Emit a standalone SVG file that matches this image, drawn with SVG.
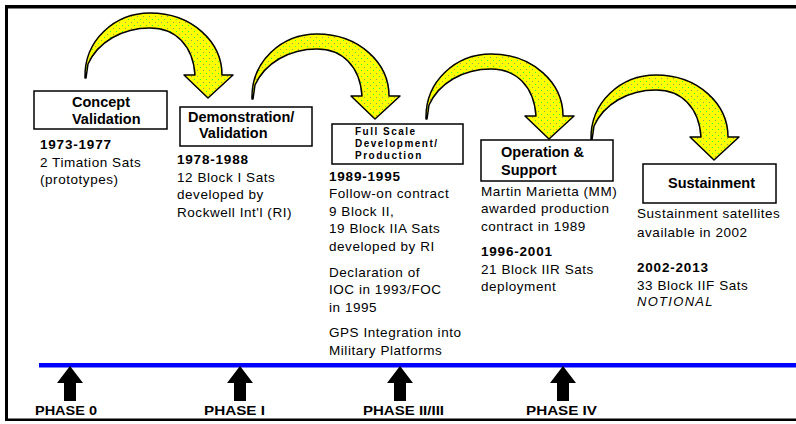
<svg xmlns="http://www.w3.org/2000/svg" width="796" height="424" viewBox="0 0 796 424">
<style>
text{font-family:"Liberation Sans",Arial,sans-serif;fill:#000}
.t{font-size:14.5px;font-weight:bold}
.b{font-size:13.5px;letter-spacing:0.55px}
.y{font-size:13.5px;font-weight:bold;letter-spacing:0.8px}
.s{font-size:10px;font-weight:bold;letter-spacing:1.5px}
.box{fill:#fff;stroke:#000;stroke-width:1.5}
.ph{font-size:12.5px;font-weight:bold}
.arr{fill:url(#dots);stroke:#000;stroke-width:1.5;stroke-linejoin:round}
.up{fill:#000}
</style>
<defs>
<pattern id="dots" width="6" height="6" patternUnits="userSpaceOnUse">
<rect width="6" height="6" fill="#ffff00"/>
<rect x="1" y="1" width="1" height="1" fill="#33ff33"/>
<rect x="4" y="4" width="1" height="1" fill="#9a9a5a"/>
</pattern>
<path id="curve" d="M0,0 C-1,-38 30,-65 65,-65 C107,-65 137,-36 137,-3 L148,-3 L123,20 L99,-3 L110,-3 C108,-33 90,-50 65,-50 C37,-50 13,-36 3,-14 L1,0 Z"/>
<polygon id="up" points="0,0 13,17 6,17 6,35 -6,35 -6,17 -13,17"/>
</defs>

<g id="frame">
<rect x="5" y="5" width="791" height="3.5" fill="#000"/>
<rect x="5" y="5" width="3" height="416" fill="#000"/>
<rect x="5" y="418.5" width="791" height="2.5" fill="#000"/>
</g>

<g id="connectors">
<use href="#curve" class="arr" transform="translate(85,78)"/>
<use href="#curve" class="arr" transform="translate(252,99)"/>
<use href="#curve" class="arr" transform="translate(426,119)"/>
<use href="#curve" class="arr" transform="translate(591,140)"/>
</g>

<g id="concept">
<rect class="box" x="34" y="91" width="133" height="38"/>
<text class="t" x="72" y="106.5">Concept</text>
<text class="t" x="72" y="124">Validation</text>
<text class="y" x="40" y="149">1973-1977</text>
<text class="b" x="40" y="166.5">2 Timation Sats</text>
<text class="b" x="40" y="183.5">(prototypes)</text>
</g>

<g id="demonstration">
<rect class="box" x="180" y="107" width="132" height="39"/>
<text class="t" x="188" y="122">Demonstration/</text>
<text class="t" x="199" y="138">Validation</text>
<text class="y" x="177" y="164">1978-1988</text>
<text class="b" x="177" y="181.7">12 Block I Sats</text>
<text class="b" x="177" y="199">developed by</text>
<text class="b" x="177" y="216.7">Rockwell Int'l (RI)</text>
</g>

<g id="fsd">
<rect class="box" x="332" y="124" width="131" height="40"/>
<text class="s" x="355" y="135">Full Scale</text>
<text class="s" x="355" y="146.5">Development/</text>
<text class="s" x="355" y="158.5">Production</text>
<text class="y" x="329" y="181">1989-1995</text>
<text class="b" x="329" y="198">Follow-on contract</text>
<text class="b" x="329" y="215.7">9 Block II,</text>
<text class="b" x="329" y="233">19 Block IIA Sats</text>
<text class="b" x="329" y="251">developed by RI</text>
<text class="b" x="329" y="276.5">Declaration of</text>
<text class="b" x="329" y="294">IOC in 1993/FOC</text>
<text class="b" x="329" y="311.5">in 1995</text>
<text class="b" x="329" y="337">GPS  Integration into</text>
<text class="b" x="329" y="354.5">Military Platforms</text>
</g>

<g id="operation">
<rect class="box" x="481" y="140" width="132" height="41"/>
<text class="t" x="501" y="157">Operation &amp;</text>
<text class="t" x="501" y="174.5">Support</text>
<text class="b" x="481" y="196">Martin Marietta (MM)</text>
<text class="b" x="481" y="213">awarded production</text>
<text class="b" x="481" y="230.7">contract in 1989</text>
<text class="y" x="481" y="255.7">1996-2001</text>
<text class="b" x="481" y="273.7">21 Block IIR Sats</text>
<text class="b" x="481" y="290.7">deployment</text>
</g>

<g id="sustainment">
<rect class="box" x="643" y="164" width="133" height="39"/>
<text class="t" x="668" y="188">Sustainment</text>
<text class="b" x="637" y="218">Sustainment satellites</text>
<text class="b" x="637" y="236.5">available in 2002</text>
<text class="y" x="637" y="272">2002-2013</text>
<text class="b" x="637" y="290">33 Block IIF Sats</text>
<text x="637" y="306" font-size="13" font-style="italic" letter-spacing="1.3">NOTIONAL</text>
</g>

<g id="timeline">
<rect x="39" y="363" width="757" height="4.5" fill="#0000ff"/>
<use href="#up" class="up" transform="translate(70,366)"/>
<use href="#up" class="up" transform="translate(240,366)"/>
<use href="#up" class="up" transform="translate(400,366)"/>
<use href="#up" class="up" transform="translate(563,366)"/>
<text class="ph" x="35" y="415" textLength="62" lengthAdjust="spacingAndGlyphs">PHASE 0</text>
<text class="ph" x="204" y="415" textLength="61" lengthAdjust="spacingAndGlyphs">PHASE I</text>
<text class="ph" x="363" y="415" textLength="81" lengthAdjust="spacingAndGlyphs">PHASE II/III</text>
<text class="ph" x="526" y="415" textLength="71" lengthAdjust="spacingAndGlyphs">PHASE IV</text>
</g>
</svg>
